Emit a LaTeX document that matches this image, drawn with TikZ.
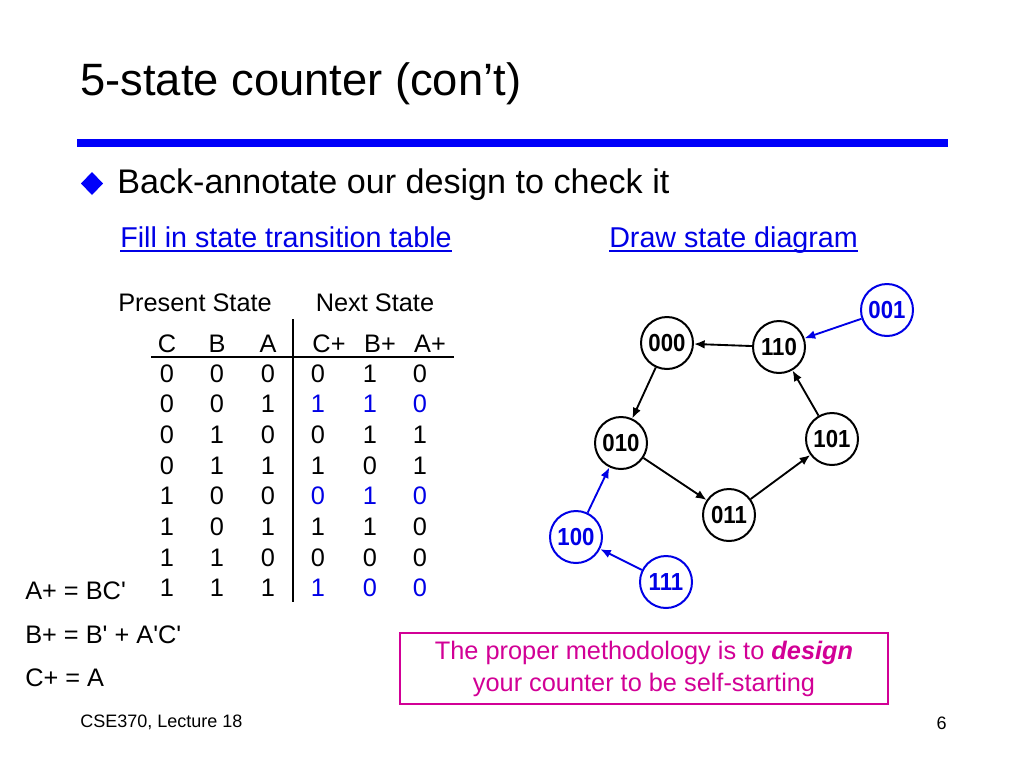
\documentclass[tikz,border=0pt]{standalone}
\usepackage{fontspec}
\setmainfont{Liberation Sans}
\newfontfamily\eqfont{Liberation Sans}[Ligatures=TeXOff]
\newfontfamily\stfont{Liberation Sans}[FakeStretch=0.9]
\usetikzlibrary{arrows.meta}
\definecolor{rulblue}{RGB}{0,0,250}
\definecolor{txtblue}{RGB}{0,0,230}
\definecolor{magent}{RGB}{210,0,150}
\tikzset{
  tcell/.style={anchor=base,inner sep=0pt,font=\fontsize{19}{22}\selectfont},
  bcell/.style={tcell,text=txtblue},
  st/.style={circle,draw,line width=1.5pt,minimum size=39pt,inner sep=0pt,font=\stfont\fontsize{18.5}{22}\selectfont\bfseries},
  bst/.style={st,draw=txtblue,text=txtblue},
  arr/.style={line width=1.4pt,-{Latex[length=8pt,width=6.5pt]}},
  barr/.style={arr,draw=txtblue},
  eq/.style={anchor=base west,inner sep=0pt,font=\eqfont\fontsize{19}{22}\selectfont},
  link/.style={anchor=base west,inner sep=0pt,text=txtblue,font=\fontsize{21.5}{26}\selectfont},
}
\begin{document}
\begin{tikzpicture}[x=0.75pt,y=-0.75pt]
\useasboundingbox (0,0) rectangle (1024,768);
\fill[white] (0,0) rectangle (1024,768);
% title
\node[anchor=base west,inner sep=0pt,font=\fontsize{34}{40}\selectfont] (title) at (80,95) {5-state counter (con’t)};
\fill[rulblue] (77,139) rectangle (948,147);
% bullet
\fill[rulblue] (92,172) -- (103,183.5) -- (92,195) -- (81,183.5) -- cycle;
\node[anchor=base west,inner sep=0pt,font=\fontsize{25.6}{30}\selectfont] (bullet) at (117,193) {Back-annotate our design to check it};
\node[link] (link1) at (120,247) {Fill in state transition table};
\node[link] (link2) at (609,247) {Draw state diagram};
\draw[txtblue,line width=1.2pt] (link1.base west) ++(0,4) -- ([yshift=-3pt]link1.base east);
\draw[txtblue,line width=1.2pt] (link2.base west) ++(0,4) -- ([yshift=-3pt]link2.base east);
% table headers
\node[tcell] (ps) at (195,311) {Present State};
\node[tcell] (ns) at (375,311) {Next State};
\node[tcell] (hC) at (167,352) {C};
\node[tcell] (hB) at (217,352) {B};
\node[tcell] (hA) at (268,352) {A};
\node[tcell] (hCp) at (329,352) {C+};
\node[tcell] (hBp) at (380,352) {B+};
\node[tcell] (hAp) at (430,352) {A+};
\draw[line width=2.2pt] (151,357) -- (454,357);
\draw[line width=1.9pt] (293,319) -- (293,602);
% rows
\foreach \c/\b/\a/\cp/\bp/\ap/\s [count=\i from 0] in {
  0/0/0/0/1/0/tcell, 0/0/1/1/1/0/bcell, 0/1/0/0/1/1/tcell, 0/1/1/1/0/1/tcell,
  1/0/0/0/1/0/bcell, 1/0/1/1/1/0/tcell, 1/1/0/0/0/0/tcell, 1/1/1/1/0/0/bcell}{
  \pgfmathsetmacro{\yy}{382+30.7*\i}
  \node[tcell] (c\i) at (167,\yy) {\c};
  \node[tcell] (b\i) at (217,\yy) {\b};
  \node[tcell] (a\i) at (268,\yy) {\a};
  \node[\s] (cp\i) at (318,\yy) {\cp};
  \node[\s] (bp\i) at (370,\yy) {\bp};
  \node[\s] (ap\i) at (420,\yy) {\ap};
}
% equations
\node[eq] (eqA) at (25,599) {A+ = BC'};
\node[eq] (eqB) at (25,643) {B+ = B' + A'C'};
\node[eq] (eqC) at (25,686) {C+ = A};
% state diagram
\node[st] (s000) at (667,343) {000};
\node[st] (s110) at (779,347) {110};
\node[bst] (s001) at (887,310) {001};
\node[st] (s010) at (621,443) {010};
\node[st] (s101) at (832,439) {101};
\node[st] (s011) at (729,515) {011};
\node[bst] (s100) at (576,537) {100};
\node[bst] (s111) at (666,582) {111};
\draw[arr] (s110) -- (s000);
\draw[arr] (s000) -- (s010);
\draw[arr] (s010) -- (s011);
\draw[arr] (s011) -- (s101);
\draw[arr] (s101) -- (s110);
\draw[barr] (s001) -- (s110);
\draw[barr] (s100) -- (s010);
\draw[barr] (s111) -- (s100);
% note box
\node[draw=magent,line width=1.5pt,minimum width=366pt,minimum height=53pt,inner sep=0pt,
      text=magent,align=center,font=\fontsize{19}{24}\selectfont] (note) at (644,668.5)
  {The proper methodology is to \textbf{\textit{design}}\\your counter to be self-starting};
% footer
\node[anchor=base west,inner sep=0pt,font=\fontsize{13.5}{16}\selectfont] (foot) at (80,727) {CSE370, Lecture 18};
\node[anchor=base east,inner sep=0pt,font=\fontsize{13.5}{16}\selectfont] (page) at (947,729) {6};
\end{tikzpicture}
\end{document}
